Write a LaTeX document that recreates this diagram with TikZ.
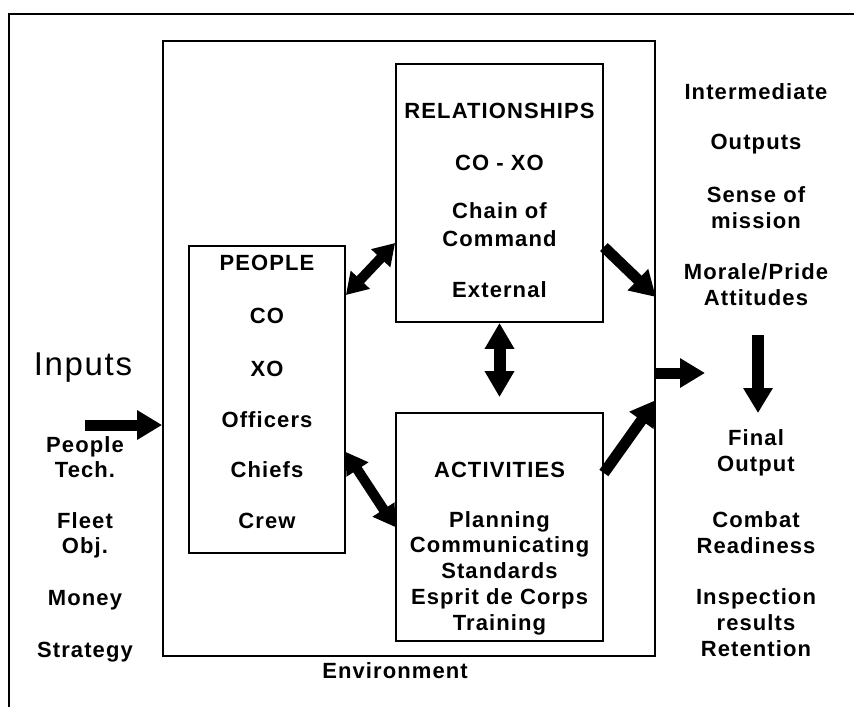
\documentclass[tikz,border=0pt]{standalone}
\usepackage{fontspec}
\setmainfont{Liberation Sans}[LetterSpace=5]
\usetikzlibrary{arrows.meta}

\begin{document}
\begin{tikzpicture}[x=1pt,y=-1pt,
    box/.style={draw,line width=1.8pt,inner sep=0pt},
    txt/.style={anchor=base,inner sep=0pt,font=\bfseries\fontsize{22}{26}\selectfont},
    fat/.style={line width=11pt,-{Triangle[length=25pt,width=28pt]}},
    fatboth/.style={line width=10pt,{Triangle[length=21pt,width=25pt]}-{Triangle[length=21pt,width=25pt]}}]
    \useasboundingbox (0,0) rectangle (854,707);

    % Outer frame
    \draw[line width=2pt] (9,707) -- (9,14) -- (854,14);

    % Boxes
    \node[box,minimum width=492pt,minimum height=615pt] (env) at (409,348.5) {};
    \node[box,minimum width=207pt,minimum height=258pt] (rel) at (499.5,193) {};
    \node[box,minimum width=156pt,minimum height=307pt] (ppl) at (267,399.5) {};
    \node[box,minimum width=207pt,minimum height=228pt] (act) at (499.5,527) {};

    % Box contents
    \foreach \y/\t [count=\i] in {118/RELATIONSHIPS,170/CO - XO,218/Chain of,246/Command,297/External}
        \node[txt] (reltxt\i) at (499.5,\y) {\t};
    \foreach \y/\t [count=\i] in {270/PEOPLE,323/CO,376/XO,427/Officers,477/Chiefs,528/Crew}
        \node[txt] (ppltxt\i) at (267,\y) {\t};
    \foreach \y/\t [count=\i] in {477/ACTIVITIES,527/Planning,552/Communicating,578/Standards,604/Esprit de Corps,630/Training}
        \node[txt] (acttxt\i) at (499.5,\y) {\t};
    \node[txt] (envtxt) at (395,678) {Environment};

    % Inputs
    \node[txt,font=\fontsize{33}{36}\selectfont] (inputs) at (83,375) {Inputs};
    \foreach \y/\t [count=\i] in {452/People,477/Tech.,528/Fleet,553/Obj.,605/Money,657/Strategy}
        \node[txt] (intxt\i) at (85,\y) {\t};

    % Outputs
    \foreach \y/\t [count=\i] in {99/Intermediate,149/Outputs,202/Sense of,228/mission,279/{Morale/Pride},305/Attitudes,
                                  445/Final,471/Output,527/Combat,553/Readiness,604/Inspection,630/results,656/Retention}
        \node[txt] (outtxt\i) at (756,\y) {\t};

    % Arrows
    \coordinate (instart) at (85,425);
    \coordinate (outend) at (705,373);
    \coordinate (downtop) at (758,335);
    \coordinate (downend) at (758,413);
    \draw[fat] (instart) -- (env.west |- instart);
    \draw[fatboth] (ppl.east |- 0,295) -- (rel.west |- 0,243);
    \draw[fatboth] (ppl.east |- 0,452) -- (act.west |- 0,527);
    \draw[fatboth,line width=12pt,{Triangle[length=26pt,width=28pt]}-{Triangle[length=26pt,width=28pt]},shorten >=15pt] (rel.south) -- (act.north);
    \draw[fat] (rel.east |- 0,247) -- (env.east |- 0,297);
    \draw[fat] (act.east |- 0,473) -- (env.east |- 0,400);
    \draw[fat] (env.east |- outend) -- (outend);
    \draw[fat,line width=12pt] (downtop) -- (downend);

\end{tikzpicture}
\end{document}
